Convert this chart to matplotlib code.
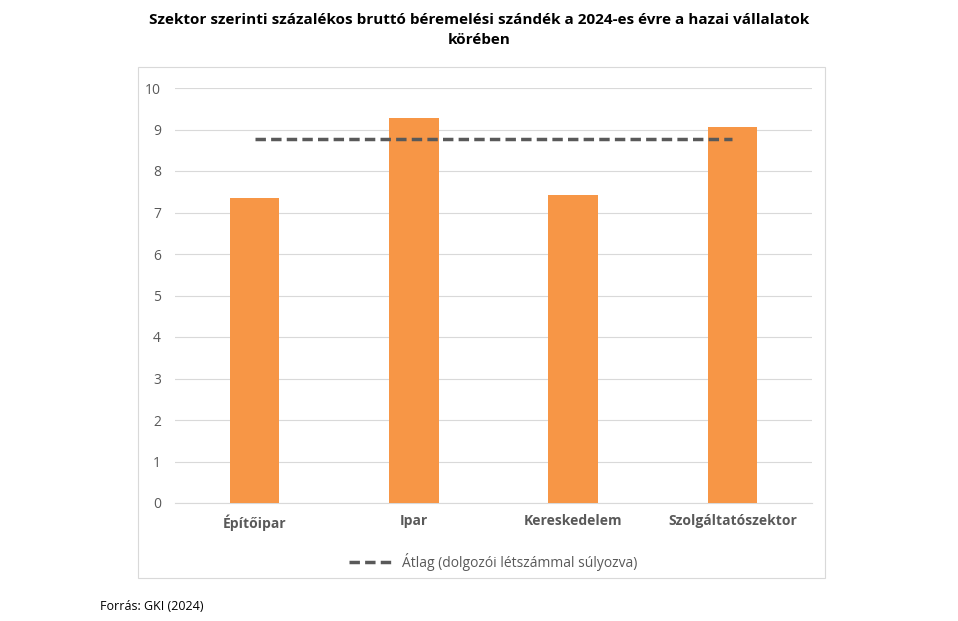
import matplotlib
matplotlib.use("Agg")
from matplotlib import pyplot as plt
from matplotlib.patches import Rectangle

categories = ["Építőipar", "Ipar", "Kereskedelem", "Szolgáltatószektor"]
values = [7.35, 9.28, 7.43, 9.07]
average = 8.78
yticks = list(range(0, 11))

plt.rcParams['font.family'] = ['Open Sans', 'DejaVu Sans']

fig = plt.figure(figsize=(9.58, 6.21), dpi=100)
W, H = 958, 621
ax = fig.add_axes([175 / W, 1 - 503 / H, (812 - 175) / W, (503 - 88) / H])

x = list(range(len(categories)))
ax.bar(x, values, width=0.31, color="#F79646", zorder=3)
ax.plot([x[0], x[-1]], [average, average], color="#595959", lw=2.5,
        ls=(0, (3, 1.5)), zorder=4, label="Átlag (dolgozói létszámmal súlyozva)")

ax.set_xlim(-0.5, len(categories) - 0.5)
ax.set_ylim(0, 10)
ax.set_yticks(yticks)
ax.set_xticks(x)
ax.set_xticklabels(categories, fontsize=10, fontweight="bold", color="#595959")
ax.tick_params(axis="y", labelsize=10, colors="#595959", length=0, pad=10)
ax.tick_params(axis="x", length=0, pad=8)
ax.grid(axis="y", color="#D9D9D9", lw=0.8, zorder=0)
for s in ["top", "right", "left"]:
    ax.spines[s].set_visible(False)
ax.spines["bottom"].set_color("#D9D9D9")

ax.legend(loc="upper center", bbox_to_anchor=(0.5, -0.09), frameon=False,
          fontsize=10, labelcolor="#595959", handlelength=3)

fig.patches.append(Rectangle((138 / W, 1 - 578 / H), (825 - 138) / W, (578 - 67) / H,
                             transform=fig.transFigure, fill=False,
                             edgecolor="#D9D9D9", lw=0.8))

fig.text(0.5, 1 - 30 / H,
         "Szektor szerinti százalékos bruttó béremelési szándék a 2024-es évre a hazai vállalatok\nkörében",
         ha="center", va="center", fontsize=11, fontweight="bold", linespacing=1.5)
fig.text(100 / W, 1 - 607 / H, "Forrás: GKI (2024)", fontsize=9, va="center")

fig.savefig("out.png", dpi=100)
